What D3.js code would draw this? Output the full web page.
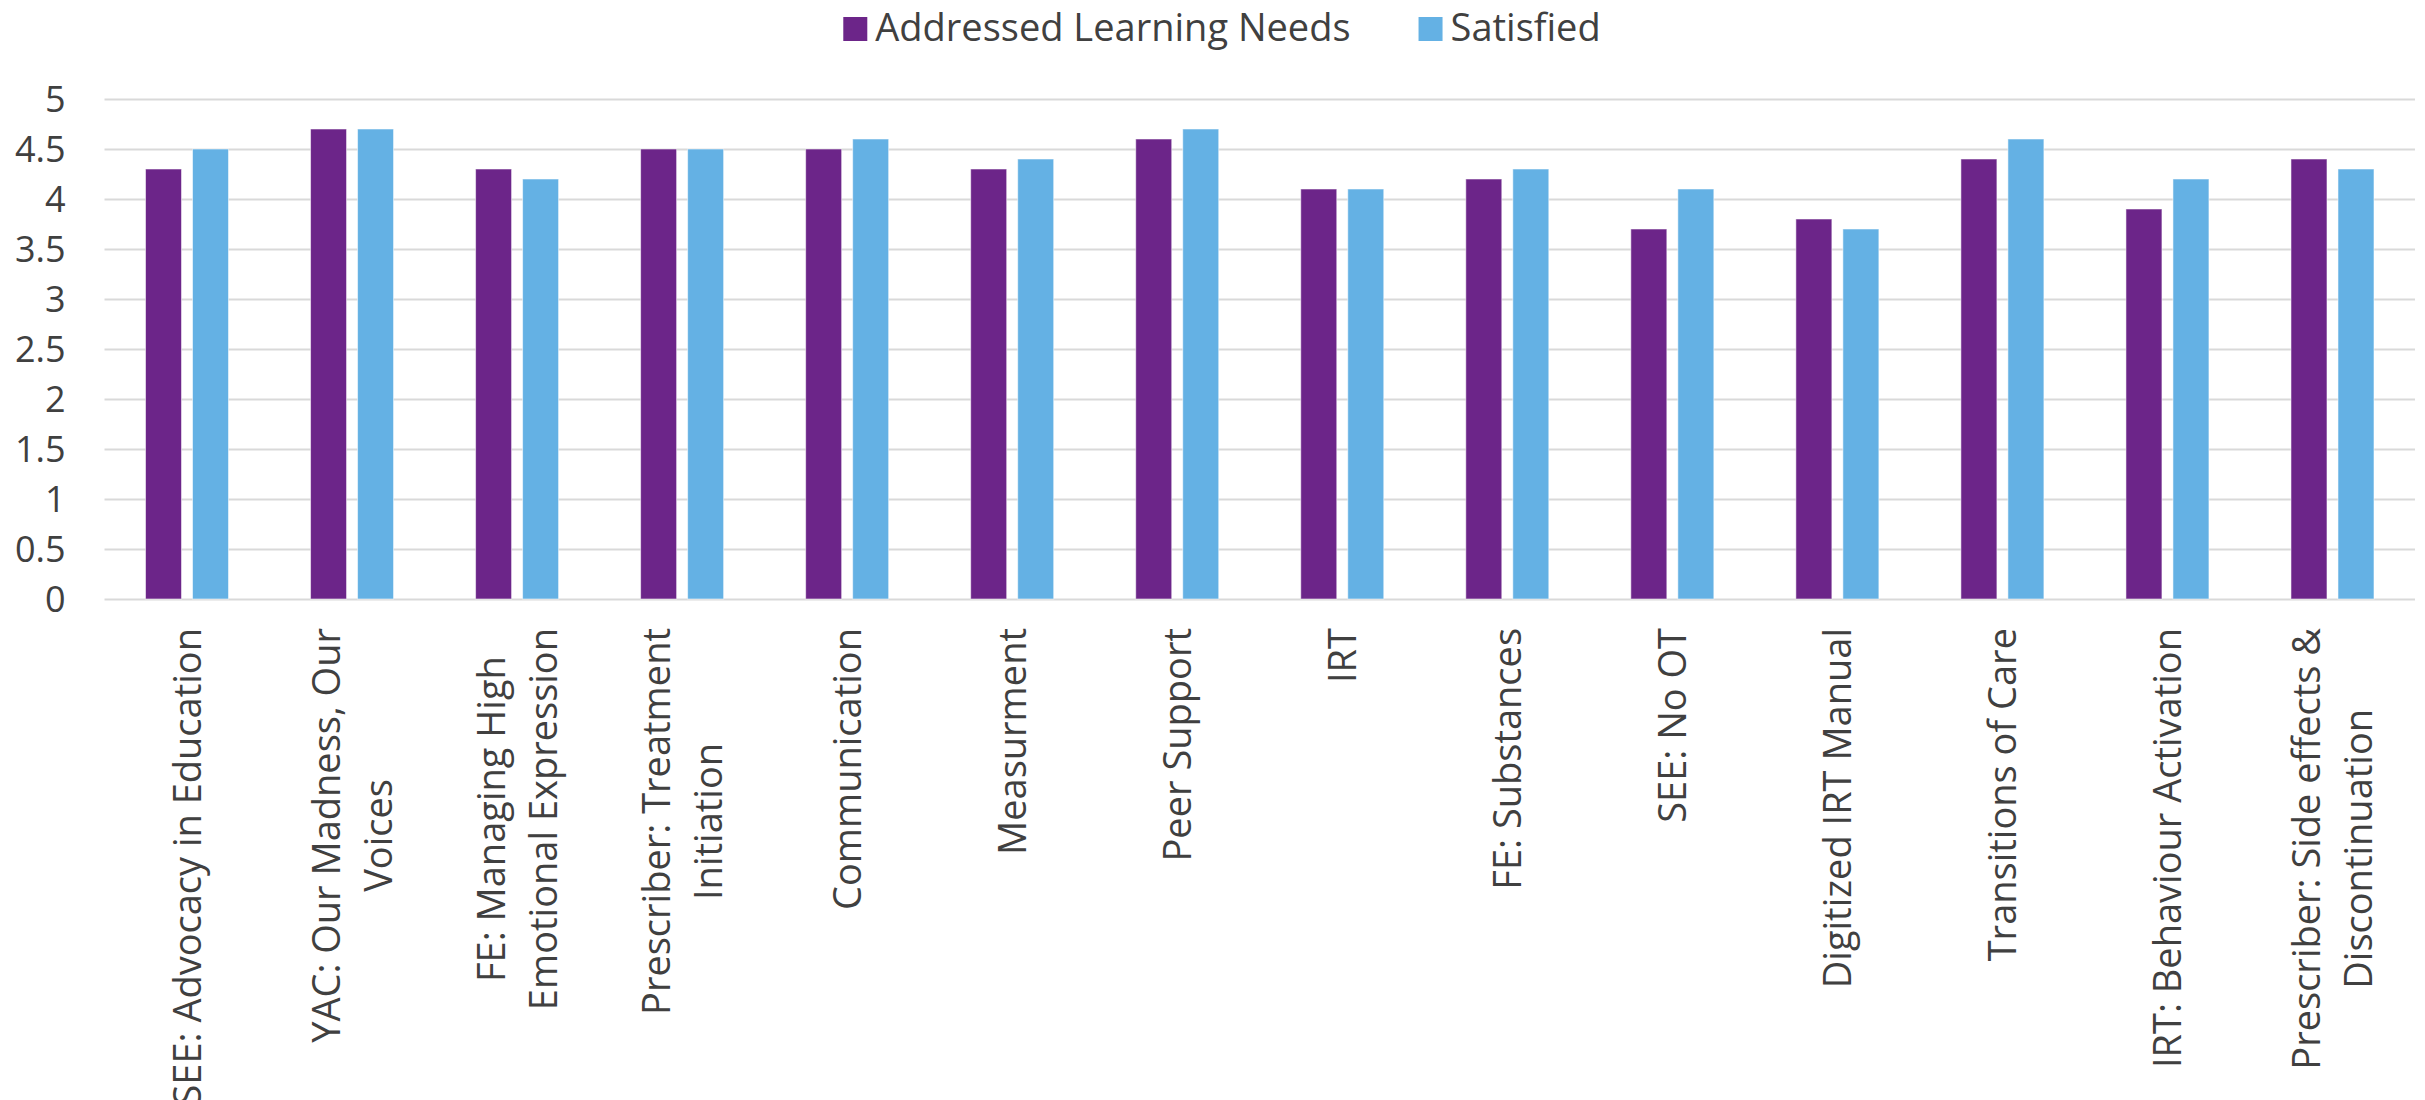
<!DOCTYPE html>
<html>
<head>
<meta charset="utf-8">
<script src="https://cdn.jsdelivr.net/npm/d3@7"></script>
<style>
  html, body { margin: 0; padding: 0; background: #ffffff; }
  svg { display: block; }
  text { font-family: "Open Sans", "Noto Sans", sans-serif; fill: #404040; }
</style>
</head>
<body>
<svg id="chart" width="2425" height="1100"></svg>
<script>
// ---- data ----
const categories = [
  "SEE: Advocacy in Education",
  "YAC: Our Madness, Our\nVoices",
  "FE: Managing High\nEmotional Expression",
  "Prescriber: Treatment\nInitiation",
  "Communication",
  "Measurment",
  "Peer Support",
  "IRT",
  "FE: Substances",
  "SEE: No OT",
  "Digitized IRT Manual",
  "Transitions of Care",
  "IRT: Behaviour Activation",
  "Prescriber: Side effects &\nDiscontinuation"
];
const seriesNames = ["Addressed Learning Needs", "Satisfied"];
const addressed = [4.3, 4.7, 4.3, 4.5, 4.5, 4.3, 4.6, 4.1, 4.2, 3.7, 3.8, 4.4, 3.9, 4.4];
const satisfied = [4.5, 4.7, 4.2, 4.5, 4.6, 4.4, 4.7, 4.1, 4.3, 4.1, 3.7, 4.6, 4.2, 4.3];
const yTicks = [0, 0.5, 1, 1.5, 2, 2.5, 3, 3.5, 4, 4.5, 5];

// ---- styles ----
const colors = ["#6c2589", "#64b1e4"];
const gridColor = "#d9d9d9";

const svg = d3.select("#chart");
const plot = { left: 104.5, right: 2415, top: 99, bottom: 599 };

const x = d3.scaleBand().domain(categories).range([plot.left, plot.right]).paddingInner(0).paddingOuter(0);
const x1 = d3.scaleBand().domain([0, 1]).range([0, x.bandwidth()]).paddingInner(0.234).paddingOuter(0.8725);
const y = d3.scaleLinear().domain([0, 5]).range([plot.bottom, plot.top]);

// y axis with gridlines
const yAxis = svg.append("g")
  .attr("transform", `translate(${plot.left},0)`)
  .call(d3.axisLeft(y).tickValues(yTicks).tickFormat(d => String(d))
        .tickSize(-(plot.right - plot.left)).tickPadding(39));
yAxis.select(".domain").remove();
yAxis.selectAll(".tick line").attr("stroke", gridColor).attr("stroke-width", 2);
yAxis.selectAll(".tick text")
  .attr("font-size", 36)
  .attr("font-family", "'Open Sans', sans-serif")
  .attr("fill", "#404040")
  .attr("dy", "0.36em");

// bars
const rows = categories.map((c, i) => ({ cat: c, vals: [addressed[i], satisfied[i]] }));
const groups = svg.append("g").selectAll("g").data(rows).join("g")
  .attr("transform", d => `translate(${x(d.cat)},0)`);
groups.selectAll("rect").data(d => d.vals.map((v, k) => ({ k, v }))).join("rect")
  .attr("x", d => x1(d.k))
  .attr("width", x1.bandwidth())
  .attr("y", d => y(d.v))
  .attr("height", d => y(0) - y(d.v))
  .attr("fill", d => colors[d.k])
  .attr("stroke", "#ffffff")
  .attr("stroke-opacity", 0.55)
  .attr("stroke-width", 1);

// x axis (category labels): block right-aligned to the axis, lines centred within the block
const xAxis = svg.append("g")
  .attr("transform", `translate(0,${plot.bottom})`)
  .call(d3.axisBottom(x).tickSize(0).tickPadding(0));
xAxis.select(".domain").remove();
xAxis.selectAll(".tick text").each(function(d) {
  const t = d3.select(this);
  const lines = d.split("\n");
  const lh = 52;
  t.text(null)
    .attr("y", null).attr("dy", null)
    .attr("font-size", 38)
    .attr("font-family", "'Open Sans', sans-serif")
    .attr("fill", "#404040")
    .attr("transform", "translate(0,29) rotate(-90)");
  const spans = lines.map((ln, i) => t.append("tspan")
      .attr("y", (i - (lines.length - 1) / 2) * lh)
      .attr("dy", "0.36em")
      .text(ln));
  const widths = spans.map(s => s.node().getComputedTextLength());
  const W = d3.max(widths);
  spans.forEach(s => s.attr("x", -W / 2));
  t.attr("text-anchor", "middle");
});

// legend
const legend = svg.append("g");
const items = legend.selectAll("g").data(seriesNames).join("g");
items.append("rect").attr("width", 24).attr("height", 24).attr("y", 17)
  .attr("fill", (d, i) => colors[i]);
items.append("text").attr("x", 32).attr("y", 41)
  .attr("font-size", 38)
  .text(d => d);
let cursor = 0;
const positions = [];
items.each(function() {
  const w = d3.select(this).select("text").node().getComputedTextLength();
  positions.push(cursor);
  cursor += 32 + w + 68;
});
const totalW = cursor - 68;
const startX = 1222 - totalW / 2;
items.attr("transform", (d, i) => `translate(${startX + positions[i]},0)`);
</script>
</body>
</html>
